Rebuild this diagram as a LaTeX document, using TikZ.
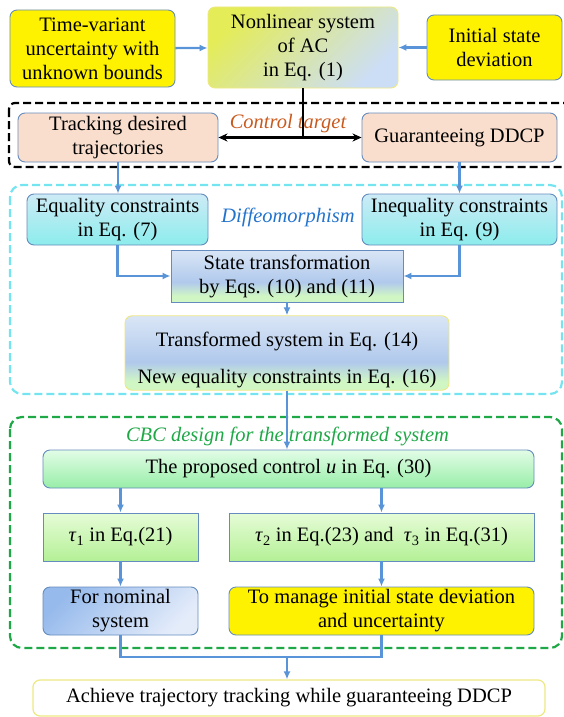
\documentclass[tikz,border=0pt]{standalone}
\usepackage{fontspec}
\setmainfont{Liberation Serif}
\usetikzlibrary{arrows.meta}

\definecolor{edgeblue}{RGB}{100,140,190}
\definecolor{arrowblue}{RGB}{88,148,215}
\definecolor{paleyellow}{RGB}{238,232,130}
\definecolor{peach}{RGB}{250,222,205}
\definecolor{tgtorange}{RGB}{200,90,30}
\definecolor{dashcyan}{RGB}{115,228,240}
\definecolor{diffblue}{RGB}{35,115,205}
\definecolor{cbcgreen}{RGB}{30,168,70}
\definecolor{bgtop}{RGB}{218,230,246}
\definecolor{bgmid}{RGB}{176,201,236}
\definecolor{bgbot}{RGB}{208,246,196}

% light blue on top, blue band, green strip at the bottom
\pgfdeclareverticalshading{bluegreen}{100bp}{color(0bp)=(bgbot); color(25bp)=(bgbot);
  color(31bp)=(bgbot); color(44bp)=(bgmid); color(75bp)=(bgtop); color(100bp)=(bgtop)}

\begin{document}
\begin{tikzpicture}[
  x=1pt, y=-1pt,
  font=\fontsize{20.5}{24}\selectfont,
  box/.style={draw=edgeblue, line width=0.9pt, rounded corners=7pt, align=center, inner sep=2pt},
  sqbox/.style={box, rounded corners=0pt},
  yelbox/.style={box, fill=yellow},
  sysbox/.style={box, draw=paleyellow, top color={rgb,255:red,228;green,236;blue,88},
    middle color={rgb,255:red,196;green,214;blue,238}, bottom color={rgb,255:red,204;green,222;blue,246}, shading angle=45},
  tgtbox/.style={box, fill=peach},
  consbox/.style={box, top color={rgb,255:red,205;green,235;blue,246}, bottom color={rgb,255:red,140;green,236;blue,236}},
  stbox/.style={sqbox, shade, shading=bluegreen},
  newbox/.style={box, draw=paleyellow, shade, shading=bluegreen},
  ctrlbox/.style={box, top color={rgb,255:red,226;green,252;blue,230}, bottom color={rgb,255:red,152;green,238;blue,168}},
  taubox/.style={sqbox, top color={rgb,255:red,230;green,252;blue,215}, bottom color={rgb,255:red,180;green,240;blue,150}},
  nombox/.style={box, top color={rgb,255:red,150;green,186;blue,236}, bottom color={rgb,255:red,228;green,236;blue,250}, shading angle=45},
  goalbox/.style={box, draw=paleyellow, line width=1.2pt, fill=white},
  tag/.style={font=\fontsize{20.5}{24}\selectfont\itshape},
  frame/.style={line width=2.2pt, dash pattern=on 8pt off 4pt, rounded corners=12pt},
  flow/.style={-{Latex[length=8pt, width=7pt]}, line width=2.3pt, draw=arrowblue},
  link/.style={line width=2.3pt, draw=arrowblue},
  both/.style={{Stealth[length=9pt, width=8pt]}-{Stealth[length=9pt, width=8pt]}, line width=2.2pt}
]
\useasboundingbox (0,0) rectangle (563,717);

% group frames
\draw[frame, rounded corners=6pt] (9,103) rectangle (575,167);
\draw[frame, draw=dashcyan] (10,185) rectangle (562,394);
\draw[frame, draw=cbcgreen] (10,417) rectangle (562,648);

% top row
\node[yelbox, minimum width=165pt, minimum height=77pt] (unc) at (92.5,48.5) {Time-variant\\uncertainty with\\unknown bounds};
\node[sysbox, minimum width=190pt, minimum height=81pt] (sys) at (303,47.5) {Nonlinear system\\of AC\\in Eq. (1)};
\node[yelbox, minimum width=135pt, minimum height=65pt] (dev) at (494.5,47.5) {Initial state\\deviation};

\draw[flow] (unc) -- (sys);
\draw[flow] (dev) -- (sys);

% control target
\node[tgtbox, minimum width=200pt, minimum height=49pt] (track) at (118,137.5) {Tracking desired\\trajectories};
\node[tgtbox, minimum width=195pt, minimum height=49pt] (ddcp) at (459.5,137.5) {Guaranteeing DDCP};
\node[tag, text=tgtorange] (lbltgt) at (288,124) {Control target};

\draw[line width=2.2pt] (sys.south) -- (sys.south |- track.east);
\draw[both] (track) -- (ddcp);

% diffeomorphism
\node[consbox, minimum width=181pt, minimum height=51pt] (eqc) at (117.5,219.5) {Equality constraints\\in Eq. (7)};
\node[consbox, minimum width=195pt, minimum height=51pt] (ineq) at (459.5,219.5) {Inequality constraints\\in Eq. (9)};
\node[tag, text=diffblue] (lbldiff) at (288,217) {Diffeomorphism};
\node[stbox, minimum width=232pt, minimum height=52pt] (state) at (287,276) {State transformation\\by Eqs. (10) and (11)};
\node[newbox, minimum width=324pt, minimum height=71pt] (tsys) at (287,353) {\rule{0pt}{29pt}Transformed system in Eq. (14)\\[13pt]New equality constraints in Eq. (16)};

\draw[flow] (track.south) -- (track.south |- eqc.north);
\draw[flow] (ddcp.south) -- (ddcp.south |- ineq.north);
\draw[flow] (eqc.south) |- (state.west);
\draw[flow] (ineq.south) |- (state.east);
\draw[flow] (state) -- (tsys);

% CBC design
\node[tag, text=cbcgreen] (lblcbc) at (287.5,436) {CBC design for the transformed system};
\node[ctrlbox, minimum width=491pt, minimum height=38pt] (ctrl) at (288.5,469) {The proposed control \textit{u} in Eq. (30)};
\node[taubox, minimum width=155pt, minimum height=48pt] (tau1) at (120.5,537) {\textit{τ}\textsubscript{1} in Eq.(21)};
\node[taubox, minimum width=305pt, minimum height=48pt] (tau23) at (381.5,537) {\textit{τ}\textsubscript{2} in Eq.(23) and\ \ \textit{τ}\textsubscript{3}\ in Eq.(31)};
\node[nombox, minimum width=155pt, minimum height=48pt] (nom) at (120.5,611) {For nominal\\system};
\node[yelbox, minimum width=305pt, minimum height=48pt] (mng) at (381.5,611) {To manage initial state deviation\\and uncertainty};

\draw[flow] (tsys.south) -- (tsys.south |- ctrl.north);
\draw[flow] (tau1.north |- ctrl.south) -- (tau1);
\draw[flow] (tau23.north |- ctrl.south) -- (tau23);
\draw[flow] (tau1) -- (nom);
\draw[flow] (tau23) -- (mng);

% result
\node[goalbox, minimum width=512pt, minimum height=36pt] (goal) at (289,698) {Achieve trajectory tracking while guaranteeing DDCP};
\coordinate (mid) at (287,657);
\draw[link] (nom.south) |- (mid) -| (mng.south);
\draw[flow] (mid) -- (mid |- goal.north);

\end{tikzpicture}
\end{document}
